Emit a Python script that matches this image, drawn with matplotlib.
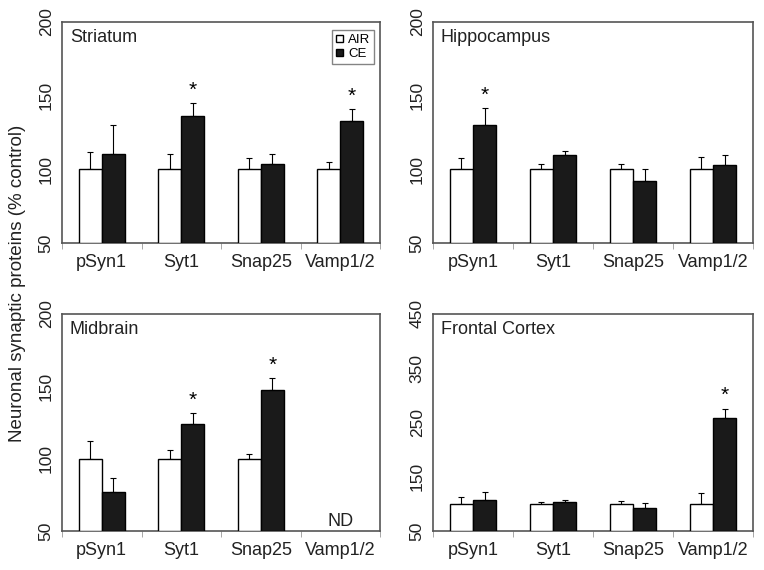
import numpy as np
import matplotlib.pyplot as plt
from matplotlib.patches import Patch

plt.rcParams.update({
    'font.family': ['Liberation Sans', 'DejaVu Sans'],
    'axes.edgecolor': '#555555',
    'axes.linewidth': 1.2,
    'xtick.color': '#555555',
    'ytick.color': '#555555',
    'xtick.labelcolor': '#222222',
    'ytick.labelcolor': '#222222',
})

proteins = ['pSyn1', 'Syt1', 'Snap25', 'Vamp1/2']

# Striatum
str_air = [100, 100, 100, 100]
str_air_err = [11.5, 10.6, 8, 4.8]
str_ce = [110.2, 136, 103.4, 133]
str_ce_err = [20.1, 8.8, 6.8, 7.7]
str_sig = [False, True, False, True]

# Hippocampus
hip_air = [100, 100, 100, 100]
hip_air_err = [7.8, 3.9, 3.9, 8.7]
hip_ce = [130.4, 110, 92.2, 103.2]
hip_ce_err = [11.4, 2.3, 8, 6.6]
hip_sig = [True, False, False, False]

# Midbrain (Vamp1/2 not detected)
mid_air = [100, 100, 100, np.nan]
mid_air_err = [12.2, 6.2, 3.5, 0]
mid_ce = [77.2, 123.7, 147.7, np.nan]
mid_ce_err = [9.2, 7.9, 8.1, 0]
mid_sig = [False, True, True, False]

# Frontal cortex
fc_air = [100, 100, 100, 100]
fc_air_err = [13.4, 4, 5.4, 20.8]
fc_ce = [106.6, 104.2, 91.8, 259.2]
fc_ce_err = [16, 2.8, 9.2, 16.6]
fc_sig = [False, False, False, True]

panels = [
    ('Striatum', str_air, str_air_err, str_ce, str_ce_err, str_sig, (50, 200), [50, 100, 150, 200]),
    ('Hippocampus', hip_air, hip_air_err, hip_ce, hip_ce_err, hip_sig, (50, 200), [50, 100, 150, 200]),
    ('Midbrain', mid_air, mid_air_err, mid_ce, mid_ce_err, mid_sig, (50, 200), [50, 100, 150, 200]),
    ('Frontal Cortex', fc_air, fc_air_err, fc_ce, fc_ce_err, fc_sig, (50, 450), [50, 150, 250, 350, 450]),
]

W, H = 764, 570
boxes = [
    (62, 22, 380, 243),
    (433, 22, 753, 243),
    (62, 314, 380, 531),
    (433, 314, 753, 531),
]

fig = plt.figure(figsize=(W / 100, H / 100), dpi=100)

bw = 0.29
x = np.arange(len(proteins))
for (name, air, air_err, ce, ce_err, sig, ylim, yticks), (l, t, r, b) in zip(panels, boxes):
    ax = fig.add_axes([l / W, 1 - b / H, (r - l) / W, (b - t) / H])
    air = np.array(air, float)
    ce = np.array(ce, float)
    ax.bar(x - bw / 2, air - ylim[0], bw, bottom=ylim[0], color='white',
           edgecolor='black', linewidth=1, zorder=3)
    ax.bar(x + bw / 2, ce - ylim[0], bw, bottom=ylim[0], color='#1a1a1a',
           edgecolor='black', linewidth=1, zorder=3)
    ax.errorbar(x - bw / 2, air, yerr=[np.zeros(4), air_err], fmt='none',
                ecolor='black', elinewidth=0.8, capsize=2, capthick=0.8, zorder=2)
    ax.errorbar(x + bw / 2, ce, yerr=[np.zeros(4), ce_err], fmt='none',
                ecolor='black', elinewidth=0.8, capsize=2, capthick=0.8, zorder=2)
    span = ylim[1] - ylim[0]
    for i, s in enumerate(sig):
        if s:
            ax.text(x[i] + bw / 2, ce[i] + ce_err[i] + span * 0.015, '*',
                    ha='center', va='bottom', fontsize=15)
    if name == 'Midbrain':
        ax.text(x[3], ylim[0] + span * 0.005, 'ND', ha='center',
                va='bottom', fontsize=13, color='#222222')

    ax.set_xlim(-0.5, 3.5)
    ax.set_ylim(*ylim)
    ax.set_yticks(yticks)
    ax.set_yticklabels([str(v) for v in yticks], rotation=90, va='center', fontsize=12.5)
    ax.tick_params(axis='y', length=0, pad=6)
    ax.set_xticks(x)
    ax.set_xticklabels(proteins, fontsize=13)
    ax.tick_params(axis='x', which='major', length=0, pad=8)
    ax.set_xticks(np.arange(-0.5, 4, 1), minor=True)
    ax.tick_params(axis='x', which='minor', length=4, width=0.6, color='#999999')
    ax.text(0.025, 0.97, name, transform=ax.transAxes, ha='left', va='top',
            fontsize=13, color='#222222')

    if name == 'Striatum':
        handles = [Patch(facecolor='white', edgecolor='black', label='AIR'),
                   Patch(facecolor='#1a1a1a', edgecolor='black', label='CE')]
        ax.legend(handles=handles, loc='upper right', fontsize=9.5, frameon=True,
                  fancybox=False, edgecolor='#666666', handlelength=0.5,
                  handleheight=0.5, handletextpad=0.4, borderpad=0.3,
                  labelspacing=0.15, borderaxespad=0.3,
                  bbox_to_anchor=(0.995, 0.98))

fig.text(18 / W, 1 - 283 / H, 'Neuronal synaptic proteins (% control)',
         rotation=90, ha='center', va='center', fontsize=13.5, color='#222222')

fig.savefig('out.png', dpi=100)
